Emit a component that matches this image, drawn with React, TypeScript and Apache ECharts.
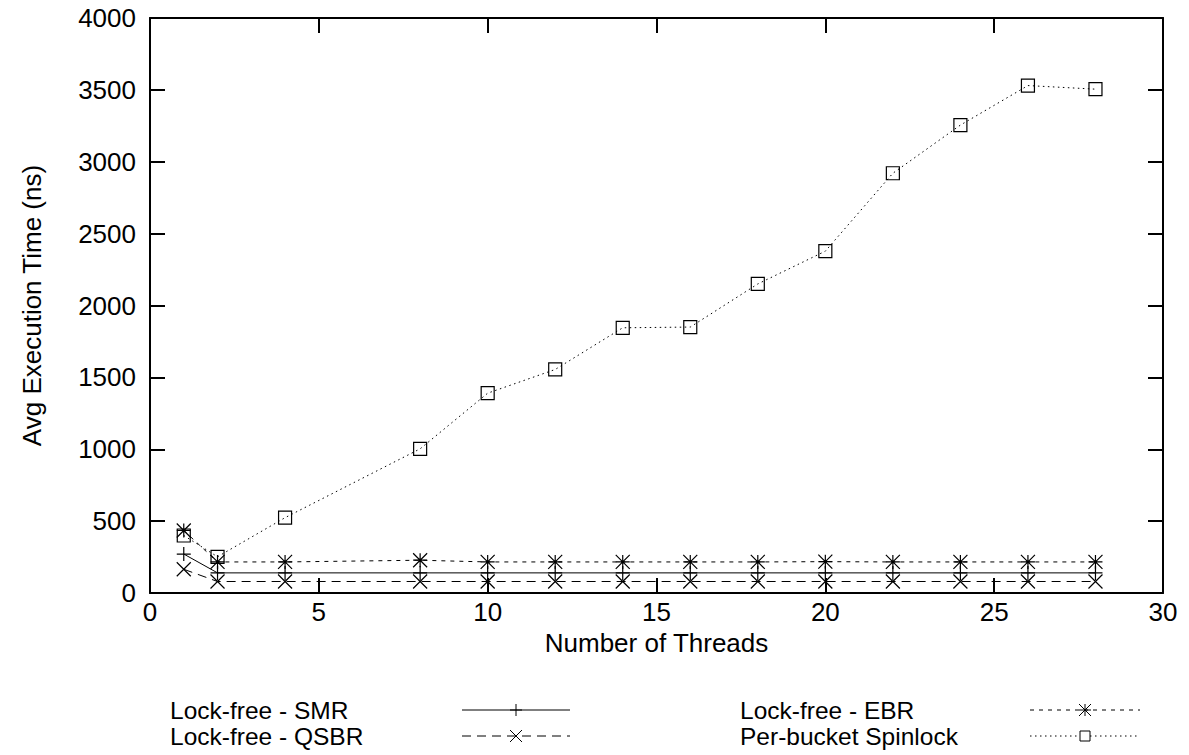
import React, { useEffect, useRef } from "react";
import * as echarts from "echarts";

const threads = [1, 2, 4, 8, 10, 12, 14, 16, 18, 20, 22, 24, 26, 28];
const smr = [271, 140, 140, 140, 140, 140, 140, 140, 140, 140, 140, 140, 140, 140];
const qsbr = [165, 80, 80, 80, 80, 80, 80, 80, 80, 80, 80, 80, 80, 80];
const ebr = [435, 216, 216, 228, 216, 216, 216, 216, 216, 218, 216, 216, 216, 216];
const spin = [400, 252, 524, 1003, 1390, 1555, 1845, 1850, 2150, 2378, 2920, 3255, 3530, 3505];

const seriesNames = ["Lock-free - SMR", "Lock-free - QSBR", "Lock-free - EBR", "Per-bucket Spinlock"];
const xTicks = { min: 0, max: 30, interval: 5 };
const yTicks = { min: 0, max: 4000, interval: 500 };
const xTitle = "Number of Threads";
const yTitle = "Avg Execution Time (ns)";

const FONT = "'Liberation Sans', Arial, Helvetica, sans-serif";
const FS = 26;
const LEG_FS = 24.5;
const ROW1 = 710;
const ROW2 = 736;

const PLUS = "path://M0,5L10,5M5,0L5,10";
const CROSS = "path://M0,0L10,10M0,10L10,0";
const STAR = "path://M0,5L10,5M5,0L5,10M0,0L10,10M0,10L10,0";

function pairs(ys: number[]) {
  return threads.map((x, i) => [x, ys[i]]);
}

function legendText(label: string, tx: number, y: number) {
  return {
    type: "text",
    x: tx,
    y,
    style: { text: label, font: `${LEG_FS}px ${FONT}`, fill: "#000", verticalAlign: "middle" },
  };
}

function legendSample(y: number, lx1: number, lx2: number, dash: number[] | null, marker: string) {
  const children: any[] = [];
  children.push({
    type: "line",
    shape: { x1: lx1, y1: y, x2: lx2, y2: y },
    style: { stroke: "#000", lineWidth: 1, lineDash: dash || undefined },
  });
  const cx = (lx1 + lx2) / 2;
  const s = 6;
  const ms: any[] = [];
  if (marker === "plus" || marker === "star") {
    ms.push([cx - s, y, cx + s, y]);
    ms.push([cx, y - s, cx, y + s]);
  }
  if (marker === "cross" || marker === "star") {
    ms.push([cx - s, y - s, cx + s, y + s]);
    ms.push([cx - s, y + s, cx + s, y - s]);
  }
  ms.forEach((m) =>
    children.push({
      type: "line",
      shape: { x1: m[0], y1: m[1], x2: m[2], y2: m[3] },
      style: { stroke: "#000", lineWidth: 1 },
    })
  );
  if (marker === "square") {
    children.push({
      type: "rect",
      shape: { x: cx - 5, y: y - 5, width: 10, height: 10 },
      style: { stroke: "#000", fill: "#fff", lineWidth: 1 },
    });
  }
  return { type: "group", children };
}

export default function App() {
  const ref = useRef<HTMLDivElement>(null);
  useEffect(() => {
    document.body.style.margin = "0";
    const chart = echarts.init(ref.current!, null, { renderer: "svg" });
    const axisLine = { show: true, onZero: false, lineStyle: { color: "#000", width: 2 } };
    const axisTick = { show: true, inside: true, length: 15, lineStyle: { color: "#000", width: 2 } };
    const labelStyle = { color: "#000", fontSize: FS, fontFamily: FONT };
    const fmt = (v: number) => String(v);
    const mkSeries = (name: string, data: number[], dash: any, symbol: string, size: number, fill: string) => ({
      name,
      type: "line",
      data: pairs(data),
      symbol,
      symbolSize: size,
      lineStyle: { color: "#000", width: 1, type: dash },
      itemStyle: { color: fill, borderColor: "#000", borderWidth: 1.2 },
      emphasis: { disabled: true },
    });
    chart.setOption({
      animation: false,
      backgroundColor: "#fff",
      grid: { left: 150, right: 26, top: 18, bottom: 162, containLabel: false },
      xAxis: [
        {
          type: "value",
          ...xTicks,
          axisLine,
          axisTick,
          splitLine: { show: false },
          axisLabel: { ...labelStyle, margin: 6, formatter: fmt },
          name: xTitle,
          nameLocation: "middle",
          nameGap: 37,
          nameMoveOverlap: false,
          nameTextStyle: { ...labelStyle },
        },
        {
          type: "value",
          position: "top",
          ...xTicks,
          axisLine,
          axisTick,
          splitLine: { show: false },
          axisLabel: { show: false },
        },
      ],
      yAxis: [
        {
          type: "value",
          ...yTicks,
          axisLine,
          axisTick,
          splitLine: { show: false },
          axisLabel: { ...labelStyle, margin: 14, formatter: fmt },
          name: yTitle,
          nameLocation: "middle",
          nameGap: 105,
          nameMoveOverlap: false,
          nameTextStyle: { ...labelStyle },
        },
        {
          type: "value",
          position: "right",
          ...yTicks,
          axisLine,
          axisTick,
          splitLine: { show: false },
          axisLabel: { show: false },
        },
      ],
      series: [
        mkSeries(seriesNames[0], smr, "solid", PLUS, 14, "#000"),
        mkSeries(seriesNames[1], qsbr, [9, 6], CROSS, 14, "#000"),
        mkSeries(seriesNames[2], ebr, [4, 5], STAR, 14, "#000"),
        mkSeries(seriesNames[3], spin, [1.5, 3.5], "rect", 13, "rgba(255,255,255,0)"),
      ],
      graphic: [
        legendText(seriesNames[0], 170, ROW1),
        legendText(seriesNames[1], 170, ROW2),
        legendText(seriesNames[2], 740, ROW1),
        legendText(seriesNames[3], 740, ROW2),
        legendSample(ROW1, 462, 570, null, "plus"),
        legendSample(ROW2, 462, 570, [9, 6], "cross"),
        legendSample(ROW1, 1030, 1140, [4, 5], "star"),
        legendSample(ROW2, 1030, 1140, [1.5, 3.5], "square"),
      ],
    });
    return () => chart.dispose();
  }, []);
  return <div ref={ref} style={{ width: 1189, height: 755 }} />;
}
